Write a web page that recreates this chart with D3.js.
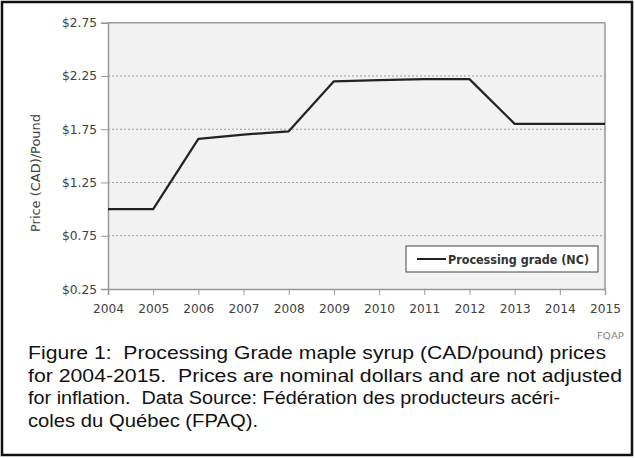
<!DOCTYPE html>
<html><head><meta charset="utf-8">
<script src="https://cdn.jsdelivr.net/npm/d3@7"></script>
<style>
html,body{margin:0;padding:0;background:#fff;}
svg{display:block;}
</style></head>
<body>
<svg id="c" width="635" height="458"></svg>
<script>
const years = [2004,2005,2006,2007,2008,2009,2010,2011,2012,2013,2014,2015];
const prices = [1.00,1.00,1.66,1.70,1.73,2.20,2.21,2.22,2.22,1.80,1.80,1.80];
const yTicks = [0.25,0.75,1.25,1.75,2.25,2.75];
const seriesName = "Processing grade (NC)";
const yTitle = "Price (CAD)/Pound";
const sourceNote = "FQAP";
const captionLines = [
  "Figure 1:  Processing Grade maple syrup (CAD/pound) prices",
  "for 2004-2015.  Prices are nominal dollars and are not adjusted",
  "for inflation.  Data Source: Fédération des producteurs acéri-",
  "coles du Québec (FPAQ)."
];
const captionWidths = [578, 594, 532, 230];

const svg = d3.select("#c");
const L = 108, R = 605, T = 22.7, B = 289;
const x = d3.scaleLinear().domain([2004,2015]).range([L,R]);
const y = d3.scaleLinear().domain([0.25,2.75]).range([B,T]);
const font = '"Liberation Sans Narrow","DejaVu Sans Condensed","Open Sans",sans-serif';

// outer frame
svg.append("rect").attr("x",2).attr("y",2).attr("width",630).attr("height",453)
  .attr("fill","#fff").attr("stroke","#111").attr("stroke-width",2.5);

// plot background
svg.append("rect").attr("x",L).attr("y",T).attr("width",R-L).attr("height",B-T)
  .attr("fill","#f2f2f2");

// gridlines
svg.append("g").selectAll("line").data(yTicks.filter(v=>v>0.25 && v<2.75)).join("line")
  .attr("x1",L).attr("x2",R).attr("y1",d=>y(d)).attr("y2",d=>y(d))
  .attr("stroke","#9a9a9a").attr("stroke-width",1).attr("stroke-dasharray","2,2");

// top and right border
svg.append("line").attr("x1",L).attr("x2",R).attr("y1",y(2.75)).attr("y2",y(2.75))
  .attr("stroke","#999").attr("stroke-width",1.5);
svg.append("line").attr("x1",R).attr("x2",R).attr("y1",T).attr("y2",B)
  .attr("stroke","#999").attr("stroke-width",1.5);

// axes
const yAxis = d3.axisLeft(y).tickValues(yTicks).tickSize(7).tickPadding(4)
  .tickFormat(d=>"$"+d3.format(".2f")(d));
const gy = svg.append("g").attr("transform",`translate(${L},0)`).call(yAxis);
gy.select(".domain").attr("stroke","#999").attr("stroke-width",1.5);
gy.selectAll(".tick line").attr("stroke","#999");
gy.selectAll(".tick text").attr("font-size",12.5).attr("fill","#404040").attr("font-family",font)
  .attr("textLength",35).attr("lengthAdjust","spacingAndGlyphs");

const xAxis = d3.axisBottom(x).tickValues(years).tickSize(6).tickPadding(9)
  .tickFormat(d3.format("d"));
const gx = svg.append("g").attr("transform",`translate(0,${B})`).call(xAxis);
gx.select(".domain").attr("stroke","#999").attr("stroke-width",1.5);
gx.selectAll(".tick line").attr("stroke","#999");
gx.selectAll(".tick text").attr("font-size",13).attr("fill","#404040").attr("font-family",font)
  .attr("textLength",31).attr("lengthAdjust","spacingAndGlyphs");

// y title
svg.append("text").attr("transform","translate(40,173) rotate(-90)")
  .attr("text-anchor","middle").attr("font-size",12.5).attr("fill","#404040")
  .attr("font-family",font).attr("textLength",118).attr("lengthAdjust","spacingAndGlyphs")
  .text(yTitle);

// line
const line = d3.line().x((d,i)=>x(years[i])).y(d=>y(d));
svg.append("path").datum(prices).attr("d",line).attr("fill","none")
  .attr("stroke","#222").attr("stroke-width",2.2).attr("stroke-linejoin","round");

// legend
const lg = svg.append("g");
lg.append("rect").attr("x",406).attr("y",246).attr("width",192).attr("height",26)
  .attr("fill","#fff").attr("stroke","#444").attr("stroke-width",1);
lg.append("line").attr("x1",417).attr("x2",446).attr("y1",259).attr("y2",259)
  .attr("stroke","#222").attr("stroke-width",2);
lg.append("text").attr("x",448).attr("y",263.5).attr("font-size",12.5).attr("font-weight","bold")
  .attr("fill","#333").attr("font-family",font).attr("textLength",141)
  .attr("lengthAdjust","spacingAndGlyphs").text(seriesName);

// source note
svg.append("text").attr("x",597).attr("y",339).attr("font-size",9.5).attr("fill","#888")
  .attr("font-family",font).attr("textLength",27).attr("lengthAdjust","spacingAndGlyphs")
  .text(sourceNote);

// caption
svg.append("g").selectAll("text").data(captionLines).join("text")
  .attr("x",28).attr("y",(d,i)=>359+i*22.5)
  .attr("font-family","'Liberation Sans',Arial,sans-serif").attr("font-size",17.5)
  .attr("fill","#111").attr("xml:space","preserve").style("white-space","pre")
  .attr("textLength",(d,i)=>captionWidths[i]).attr("lengthAdjust","spacingAndGlyphs")
  .text(d=>d);
</script>
</body></html>
